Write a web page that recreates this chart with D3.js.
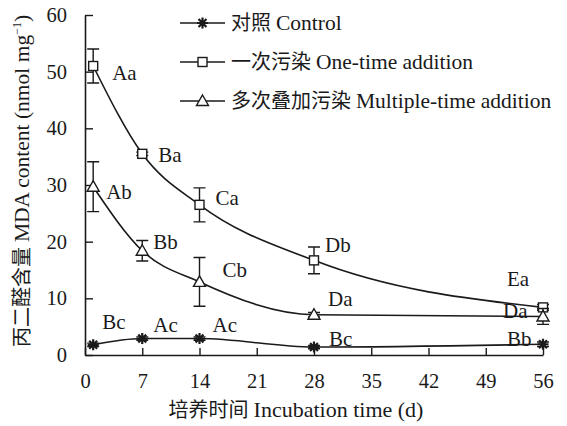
<!DOCTYPE html>
<html lang="zh">
<head>
<meta charset="utf-8">
<script src="https://d3js.org/d3.v7.min.js"></script>
<style>
  body { margin: 0; background: #fff; }
  svg text { font-family: "Liberation Serif", "Noto Sans CJK SC", serif; fill: #1a1a1a; }
</style>
</head>
<body>
<div id="chart"></div>
<script>
// ---- data ----
var days = [1, 7, 14, 28, 56];
var xTicks = [0, 7, 14, 21, 28, 35, 42, 49, 56];
var yTicks = [0, 10, 20, 30, 40, 50, 60];

var controlMean = [1.8, 2.9, 2.9, 1.4, 1.9];
var controlErr  = [0.3, 0.3, 0.3, 0.3, 0.4];
var controlSig  = ["Bc", "Ac", "Ac", "Bc", "Bb"];

var onceMean = [51.0, 35.5, 26.5, 16.7, 8.4];
var onceErr  = [3.0, 0.3, 3.0, 2.35, 0.5];
var onceSig  = ["Aa", "Ba", "Ca", "Db", "Ea"];

var multiMean = [29.7, 18.4, 12.9, 7.1, 6.8];
var multiErr  = [4.4, 1.8, 4.3, 0.4, 1.4];
var multiSig  = ["Ab", "Bb", "Cb", "Da", "Da"];

// legend names: [chinese, english]
var seriesNames = [["对照", "Control"], ["一次污染", "One-time addition"], ["多次叠加污染", "Multiple-time addition"]];

// label offsets (px) from each point: [dx to left edge, dy to middle]
var controlLabelPos = [[9, -23], [11, -14], [13, -14], [15, -8], [-36, -6]];
var onceLabelPos    = [[19, 7], [16, 1], [16, -7], [11, -16], [-36, -29]];
var multiLabelPos   = [[13, 5], [11, -9], [23, -12], [14, -16], [-40, -6]];

// ---- layout ----
var width = 567, height = 426;
var svg = d3.select("#chart").append("svg")
    .attr("width", width)
    .attr("height", height);

var x = d3.scaleLinear().domain([0, 56]).range([85, 543]);
var y = d3.scaleLinear().domain([0, 60]).range([355, 15]);
var ink = "#1a1a1a";

// axes (ticks point inward)
var gx = svg.append("g")
    .attr("transform", "translate(0," + y(0) + ")")
    .call(d3.axisBottom(x).tickValues(xTicks).tickSizeInner(-7).tickSizeOuter(0).tickPadding(18));
var gy = svg.append("g")
    .attr("transform", "translate(" + x(0) + ",0)")
    .call(d3.axisLeft(y).tickValues(yTicks).tickSizeInner(-8).tickSizeOuter(0).tickPadding(18));

[gx, gy].forEach(function(g) {
  g.select(".domain").attr("stroke", ink).attr("stroke-width", 1.6);
  g.selectAll(".tick line").attr("stroke", ink).attr("stroke-width", 1.4);
  g.selectAll(".tick text").attr("font-size", 20.5).attr("font-family", null).attr("fill", ink);
});

// axis titles
var xTitle = svg.append("text")
    .attr("x", 296).attr("y", 417)
    .attr("text-anchor", "middle")
    .attr("font-size", 20);
xTitle.append("tspan").text("培养时间 ");
xTitle.append("tspan").attr("font-size", 22).text("Incubation time (d)");

var yTitle = svg.append("text")
    .attr("transform", "translate(29,181) rotate(-90)")
    .attr("text-anchor", "middle")
    .attr("font-size", 20);
yTitle.append("tspan").text("丙二醛含量 ");
yTitle.append("tspan").attr("font-size", 21.5).text("MDA content (nmol mg");
yTitle.append("tspan").attr("font-size", 12).attr("dy", -8).text("−1");
yTitle.append("tspan").attr("font-size", 21.5).attr("dy", 8).text(")");

// marker drawers
function drawStar(g, cx, cy) {
  var r = 5.5, d = r * 0.72;
  g.append("path")
    .attr("d", "M" + (cx - r) + "," + cy + "H" + (cx + r) +
               "M" + cx + "," + (cy - r) + "V" + (cy + r) +
               "M" + (cx - d) + "," + (cy - d) + "L" + (cx + d) + "," + (cy + d) +
               "M" + (cx - d) + "," + (cy + d) + "L" + (cx + d) + "," + (cy - d))
    .attr("stroke", ink).attr("stroke-width", 2.2).attr("fill", "none");
}
function drawSquare(g, cx, cy) {
  g.append("rect")
    .attr("x", cx - 4.5).attr("y", cy - 4.5)
    .attr("width", 9).attr("height", 9)
    .attr("fill", "#fff").attr("stroke", ink).attr("stroke-width", 1.4);
}
function drawTriangle(g, cx, cy) {
  g.append("path")
    .attr("d", "M" + cx + "," + (cy - 6) + "L" + (cx + 6) + "," + (cy + 4.5) + "L" + (cx - 6) + "," + (cy + 4.5) + "Z")
    .attr("fill", "#fff").attr("stroke", ink).attr("stroke-width", 1.4);
}

var series = [
  { mean: controlMean, err: controlErr, sig: controlSig, pos: controlLabelPos, marker: drawStar },
  { mean: onceMean, err: onceErr, sig: onceSig, pos: onceLabelPos, marker: drawSquare },
  { mean: multiMean, err: multiErr, sig: multiSig, pos: multiLabelPos, marker: drawTriangle }
];

var line = d3.line()
    .x(function(d) { return x(d[0]); })
    .y(function(d) { return y(d[1]); })
    .curve(d3.curveMonotoneX);

series.forEach(function(s) {
  var g = svg.append("g");
  var pts = days.map(function(d, i) { return [d, s.mean[i]]; });

  g.append("path")
    .attr("d", line(pts))
    .attr("fill", "none").attr("stroke", ink).attr("stroke-width", 1.6);

  // error bars
  days.forEach(function(d, i) {
    var cx = x(d), top = y(s.mean[i] + s.err[i]), bot = y(s.mean[i] - s.err[i]);
    g.append("path")
      .attr("d", "M" + cx + "," + top + "V" + bot +
                 "M" + (cx - 6) + "," + top + "H" + (cx + 6) +
                 "M" + (cx - 6) + "," + bot + "H" + (cx + 6))
      .attr("stroke", ink).attr("stroke-width", 1.4).attr("fill", "none");
  });

  days.forEach(function(d, i) { s.marker(g, x(d), y(s.mean[i])); });

  // significance letters
  days.forEach(function(d, i) {
    g.append("text")
      .attr("x", x(d) + s.pos[i][0])
      .attr("y", y(s.mean[i]) + s.pos[i][1])
      .attr("dy", "0.35em")
      .attr("font-size", 21)
      .text(s.sig[i]);
  });
});

// legend
var legend = svg.append("g");
series.forEach(function(s, i) {
  var ly = 23 + i * 39;
  legend.append("path")
    .attr("d", "M180," + ly + "H225")
    .attr("stroke", ink).attr("stroke-width", 1.6);
  s.marker(legend, 202.5, ly);
  var t = legend.append("text")
    .attr("x", 231).attr("y", ly)
    .attr("dy", "0.35em")
    .attr("font-size", 20);
  t.append("tspan").text(seriesNames[i][0] + " ");
  t.append("tspan").attr("font-size", 21.5).text(seriesNames[i][1]);
});
</script>
</body>
</html>
